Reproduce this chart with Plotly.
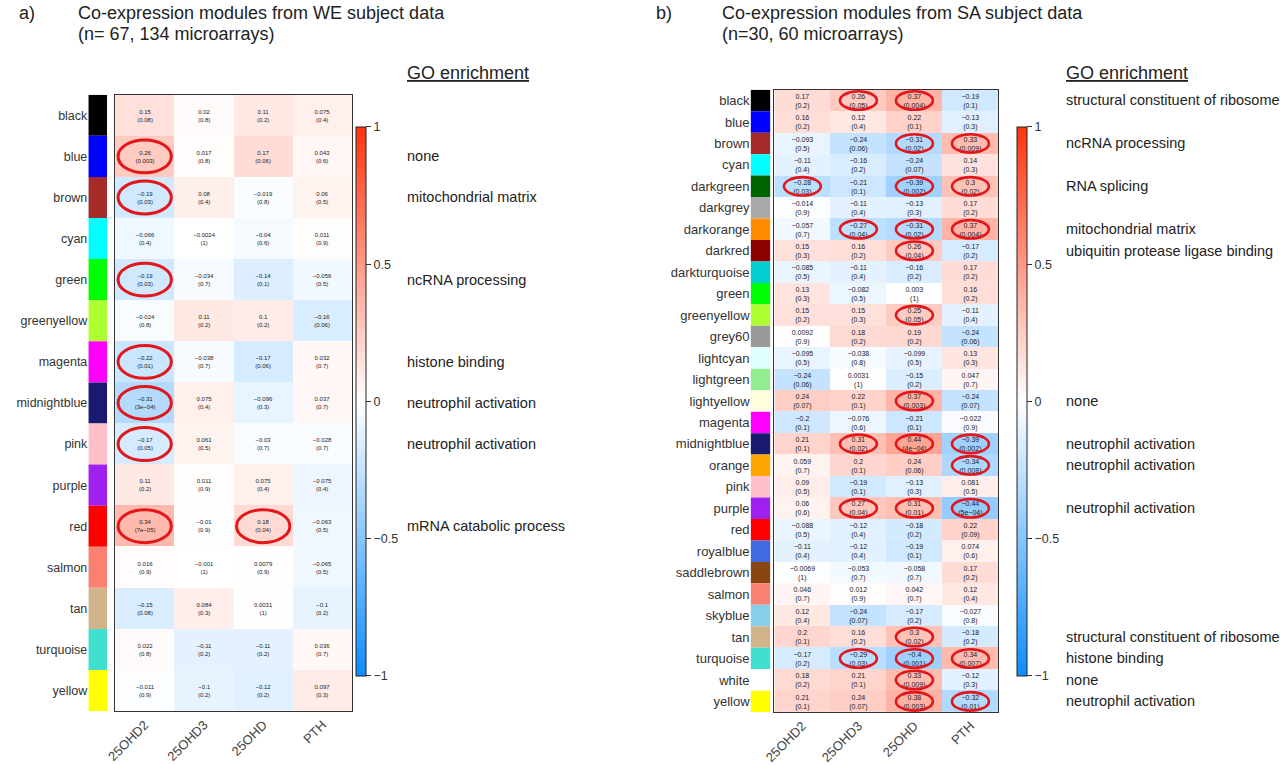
import plotly.graph_objects as go

W, H = 1280, 765
FONT = "Liberation Sans, Arial, sans-serif"

traits = ["25OHD2", "25OHD3", "25OHD", "PTH"]

# ---------------- Panel a) WE subjects ----------------
we_modules = ["black", "blue", "brown", "cyan", "green", "greenyellow", "magenta",
              "midnightblue", "pink", "purple", "red", "salmon", "tan", "turquoise", "yellow"]
we_r = [
    [0.15, 0.02, 0.11, 0.075],
    [0.26, 0.017, 0.17, 0.043],
    [-0.19, 0.08, -0.019, 0.06],
    [-0.066, -0.0024, -0.04, 0.011],
    [-0.19, -0.034, -0.14, -0.056],
    [-0.024, 0.11, 0.1, -0.16],
    [-0.22, -0.038, -0.17, 0.032],
    [-0.31, 0.075, -0.096, 0.037],
    [-0.17, 0.061, -0.03, -0.028],
    [0.11, 0.011, 0.075, -0.075],
    [0.34, -0.01, 0.18, -0.063],
    [0.016, -0.001, 0.0079, -0.065],
    [-0.15, 0.084, 0.0031, -0.1],
    [0.022, -0.11, -0.11, 0.036],
    [-0.011, -0.1, -0.12, 0.097],
]
we_p = [
    [0.08, 0.8, 0.2, 0.4],
    [0.003, 0.8, 0.06, 0.6],
    [0.03, 0.4, 0.8, 0.5],
    [0.4, 1, 0.6, 0.9],
    [0.03, 0.7, 0.1, 0.5],
    [0.8, 0.2, 0.2, 0.06],
    [0.01, 0.7, 0.06, 0.7],
    [3e-04, 0.4, 0.3, 0.7],
    [0.05, 0.5, 0.7, 0.7],
    [0.2, 0.9, 0.4, 0.4],
    [7e-05, 0.9, 0.04, 0.5],
    [0.9, 1, 0.9, 0.5],
    [0.08, 0.3, 1, 0.2],
    [0.8, 0.2, 0.2, 0.7],
    [0.9, 0.2, 0.2, 0.3],
]
we_go_rows = ["blue", "brown", "green", "magenta", "midnightblue", "pink", "red"]
we_go_terms = ["none", "mitochondrial matrix", "ncRNA processing", "histone binding",
               "neutrophil activation", "neutrophil activation", "mRNA catabolic process"]

# ---------------- Panel b) SA subjects ----------------
sa_modules = ["black", "blue", "brown", "cyan", "darkgreen", "darkgrey", "darkorange", "darkred",
              "darkturquoise", "green", "greenyellow", "grey60", "lightcyan", "lightgreen",
              "lightyellow", "magenta", "midnightblue", "orange", "pink", "purple", "red",
              "royalblue", "saddlebrown", "salmon", "skyblue", "tan", "turquoise", "white", "yellow"]
sa_r = [
    [0.17, 0.26, 0.37, -0.19],
    [0.16, 0.12, 0.22, -0.13],
    [-0.093, -0.24, -0.31, 0.33],
    [-0.11, -0.16, -0.24, 0.14],
    [-0.28, -0.21, -0.39, 0.3],
    [-0.014, -0.11, -0.13, 0.17],
    [-0.057, -0.27, -0.31, 0.37],
    [0.15, 0.16, 0.26, -0.17],
    [-0.085, -0.11, -0.16, 0.17],
    [0.13, -0.082, 0.003, 0.16],
    [0.15, 0.15, 0.25, -0.11],
    [0.0092, 0.18, 0.19, -0.24],
    [-0.095, -0.038, -0.099, 0.13],
    [-0.24, 0.0031, -0.15, 0.047],
    [0.24, 0.22, 0.37, -0.24],
    [-0.2, -0.076, -0.21, -0.022],
    [0.21, 0.31, 0.44, -0.39],
    [0.059, 0.2, 0.24, -0.34],
    [0.09, -0.19, -0.13, 0.081],
    [0.06, 0.27, 0.31, -0.44],
    [-0.088, -0.12, -0.18, 0.22],
    [-0.11, -0.12, -0.19, 0.074],
    [-0.0069, -0.053, -0.058, 0.17],
    [0.046, 0.012, 0.042, 0.12],
    [0.12, -0.24, -0.17, -0.027],
    [0.2, 0.16, 0.3, -0.18],
    [-0.17, -0.29, -0.4, 0.34],
    [0.18, 0.21, 0.33, -0.12],
    [0.21, 0.24, 0.38, -0.32],
]
sa_p = [
    [0.2, 0.05, 0.004, 0.1],
    [0.2, 0.4, 0.1, 0.3],
    [0.5, 0.06, 0.02, 0.009],
    [0.4, 0.2, 0.07, 0.3],
    [0.03, 0.1, 0.002, 0.02],
    [0.9, 0.4, 0.3, 0.2],
    [0.7, 0.04, 0.02, 0.004],
    [0.3, 0.2, 0.04, 0.2],
    [0.5, 0.4, 0.2, 0.2],
    [0.3, 0.5, 1, 0.2],
    [0.2, 0.3, 0.05, 0.4],
    [0.9, 0.2, 0.2, 0.06],
    [0.5, 0.8, 0.5, 0.3],
    [0.06, 1, 0.2, 0.7],
    [0.07, 0.1, 0.003, 0.07],
    [0.1, 0.6, 0.1, 0.9],
    [0.1, 0.02, 4e-04, 0.002],
    [0.7, 0.1, 0.06, 0.008],
    [0.5, 0.1, 0.3, 0.5],
    [0.6, 0.04, 0.01, 5e-04],
    [0.5, 0.4, 0.2, 0.09],
    [0.4, 0.4, 0.1, 0.6],
    [1, 0.7, 0.7, 0.2],
    [0.7, 0.9, 0.7, 0.4],
    [0.4, 0.07, 0.2, 0.8],
    [0.1, 0.2, 0.02, 0.2],
    [0.2, 0.03, 0.001, 0.007],
    [0.2, 0.1, 0.009, 0.3],
    [0.1, 0.07, 0.003, 0.01],
]
sa_go_rows = ["black", "brown", "darkgreen", "darkorange", "darkred", "lightyellow",
              "midnightblue", "orange", "purple", "tan", "turquoise", "white", "yellow"]
sa_go_terms = ["structural constituent of ribosome", "ncRNA processing", "RNA splicing",
               "mitochondrial matrix", "ubiquitin protease ligase binding", "none",
               "neutrophil activation", "neutrophil activation", "neutrophil activation",
               "structural constituent of ribosome", "histone binding", "none",
               "neutrophil activation"]

# R colour names used by WGCNA modules
module_hex = {
    "black": "#000000", "blue": "#0000FF", "brown": "#A52A2A", "cyan": "#00FFFF",
    "green": "#00FF00", "greenyellow": "#ADFF2F", "magenta": "#FF00FF",
    "midnightblue": "#191970", "pink": "#FFC0CB", "purple": "#A020F0", "red": "#FF0000",
    "salmon": "#FA8072", "tan": "#D2B48C", "turquoise": "#40E0D0", "yellow": "#FFFF00",
    "darkgreen": "#006400", "darkgrey": "#A9A9A9", "darkorange": "#FF8C00",
    "darkred": "#8B0000", "darkturquoise": "#00CED1", "grey60": "#999999",
    "lightcyan": "#E0FFFF", "lightgreen": "#90EE90", "lightyellow": "#FFFFE0",
    "orange": "#FFA500", "royalblue": "#4169E1", "saddlebrown": "#8B4513",
    "skyblue": "#87CEEB", "white": "#FFFFFF",
}

# blueWhiteRed colour scale
colorscale = [[0.0, "rgb(13,140,255)"], [0.5, "rgb(255,255,255)"], [1.0, "rgb(255,51,13)"]]


def fmt_r(v):
    return repr(v).replace("-", "\u2212")


def fmt_p(v):
    s = format(v, ".0e") if v < 0.001 else format(v, "g")
    return "(" + s.replace("-", "\u2212") + ")"


def px_x(p):
    return p / W


def px_y(p):
    return 1 - p / H


fig = go.Figure()
shapes = []
annotations = []

panels = [
    dict(mods=we_modules, r=we_r, p=we_p, go_rows=we_go_rows, go_terms=we_go_terms,
         hx=(105, 344), hy=(95, 713), sx=(78, 97), cbx=348, goh=397, txt=6,
         cw=0.45, ch=0.40, lw=3, xa="x", ya="y", sxa="x3", sya="y3", rowfont=12.5,
         label="a)", labx=6, titx=66,
         title1="Co-expression modules from WE subject data",
         title2="(n= 67, 134 microarrays)"),
    dict(mods=sa_modules, r=sa_r, p=sa_p, go_rows=sa_go_rows, go_terms=sa_go_terms,
         hx=(770, 996), hy=(90, 714), sx=(746, 766), cbx=1015, goh=1062, txt=7,
         cw=0.33, ch=0.43, lw=2.6, xa="x2", ya="y2", sxa="x4", sya="y4", rowfont=13,
         label="b)", labx=649, titx=715,
         title1="Co-expression modules from SA subject data",
         title2="(n=30, 60 microarrays)"),
]

layout_axes = {}
for k, pn in enumerate(panels):
    n = len(pn["mods"])
    rows = list(range(n))
    text = [[fmt_r(pn["r"][i][j]) + "<br>" + fmt_p(pn["p"][i][j]) for j in range(4)]
            for i in range(n)]
    fig.add_trace(go.Heatmap(
        z=pn["r"], x=list(range(4)), y=rows, text=text, texttemplate="%{text}",
        textfont=dict(size=pn["txt"], color="#222222", family=FONT),
        colorscale=colorscale, zmin=-1, zmax=1, xaxis=pn["xa"], yaxis=pn["ya"],
        hoverinfo="skip",
        colorbar=dict(x=px_x(pn["cbx"]), xanchor="left", xpad=0, ypad=0,
                      y=px_y(402.5), yanchor="middle", len=549, lenmode="pixels",
                      thickness=10, thicknessmode="pixels", outlinewidth=1,
                      outlinecolor="#222222", tickvals=[-1, -0.5, 0, 0.5, 1],
                      ticktext=["\u22121", "\u22120.5", "0", "0.5", "1"],
                      ticks="outside", ticklen=5, tickcolor="#333333",
                      tickfont=dict(size=12.5, color="#333333", family=FONT)),
    ))
    fig.add_trace(go.Bar(
        y=rows, x=[1] * n, orientation="h", width=1,
        marker=dict(color=[module_hex[m] for m in pn["mods"]], line=dict(width=0)),
        xaxis=pn["sxa"], yaxis=pn["sya"], showlegend=False, hoverinfo="skip",
    ))
    ydom = [px_y(pn["hy"][1]), px_y(pn["hy"][0])]
    xkey = "xaxis" + ("" if pn["xa"] == "x" else pn["xa"][1:])
    ykey = "yaxis" + ("" if pn["ya"] == "y" else pn["ya"][1:])
    sxkey = "xaxis" + pn["sxa"][1:]
    sykey = "yaxis" + pn["sya"][1:]
    layout_axes[xkey] = dict(
        domain=[px_x(pn["hx"][0]), px_x(pn["hx"][1])], range=[-0.5, 3.5], anchor=pn["ya"],
        tickvals=list(range(4)), ticktext=traits, tickangle=-45, ticks="",
        tickfont=dict(size=13, color="#444444", family=FONT),
        showline=True, mirror=True, linecolor="#333333", linewidth=1.3,
        showgrid=False, zeroline=False, fixedrange=True)
    layout_axes[ykey] = dict(
        domain=ydom, range=[n - 0.5, -0.5], anchor=pn["xa"], showticklabels=False,
        ticks="", showline=True, mirror=True, linecolor="#333333", linewidth=1.3,
        showgrid=False, zeroline=False, fixedrange=True)
    layout_axes[sxkey] = dict(domain=[px_x(pn["sx"][0]), px_x(pn["sx"][1])],
                              range=[0, 1], visible=False, anchor=pn["sya"],
                              fixedrange=True)
    layout_axes[sykey] = dict(
        domain=ydom, range=[n - 0.5, -0.5], anchor=pn["sxa"], tickvals=rows,
        ticktext=pn["mods"], ticks="", showline=False, showgrid=False, zeroline=False,
        tickfont=dict(size=pn["rowfont"], color="#333333", family=FONT), fixedrange=True)

    # significance circles
    for i in range(n):
        for j in range(4):
            if pn["p"][i][j] <= 0.05:
                shapes.append(dict(type="circle", xref=pn["xa"], yref=pn["ya"],
                                   x0=j - pn["cw"], x1=j + pn["cw"],
                                   y0=i - pn["ch"], y1=i + pn["ch"],
                                   line=dict(color="#E3161B", width=pn["lw"])))

    # GO enrichment labels
    for m, term in zip(pn["go_rows"], pn["go_terms"]):
        annotations.append(dict(text=term, xref="paper", yref=pn["ya"],
                                x=px_x(pn["goh"]), y=pn["mods"].index(m),
                                xanchor="left", yanchor="middle", showarrow=False,
                                font=dict(size=14.5, color="#222222", family=FONT)))
    annotations.append(dict(text="<u>GO enrichment</u>", xref="paper", yref="paper",
                            x=px_x(pn["goh"]), y=px_y(73), xanchor="left",
                            yanchor="middle", showarrow=False,
                            font=dict(size=18, color="#222222", family=FONT)))
    # titles
    annotations.append(dict(text=pn["label"], xref="paper", yref="paper",
                            x=px_x(pn["labx"]), y=px_y(13), xanchor="left",
                            yanchor="middle", showarrow=False,
                            font=dict(size=18, color="#222222", family=FONT)))
    for t, yy in ((pn["title1"], 13), (pn["title2"], 34)):
        annotations.append(dict(text=t, xref="paper", yref="paper",
                                x=px_x(pn["titx"]), y=px_y(yy), xanchor="left",
                                yanchor="middle", showarrow=False,
                                font=dict(size=18, color="#222222", family=FONT)))

fig.update_layout(
    width=W, height=H, margin=dict(l=0, r=0, t=0, b=0),
    paper_bgcolor="white", plot_bgcolor="white", showlegend=False,
    font=dict(family=FONT, color="#222222"), hovermode=False,
    shapes=shapes, annotations=annotations, **layout_axes)

fig.write_html("out.html", config={"displayModeBar": False},
               post_script="document.body.style.margin='0';"
                           "document.body.style.overflow='hidden';")
